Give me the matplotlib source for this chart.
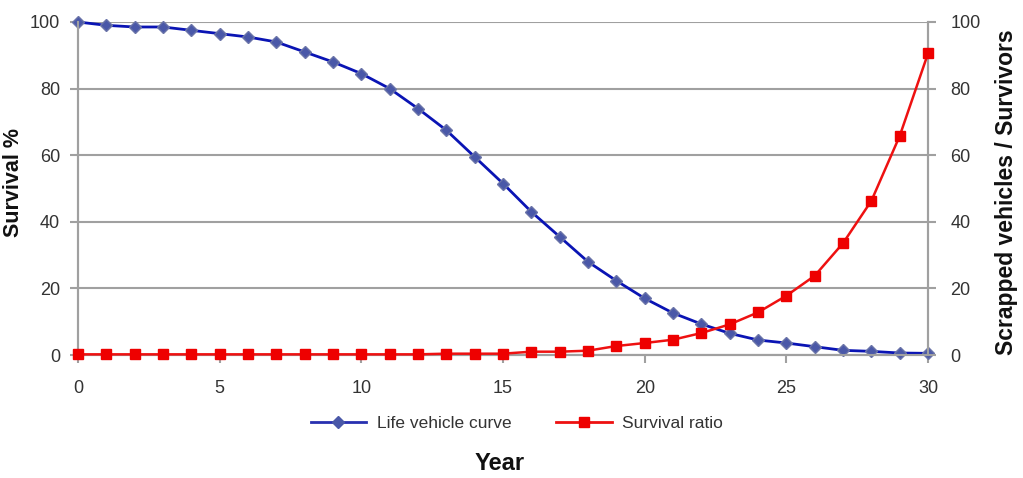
import matplotlib
matplotlib.use('Agg')
import matplotlib.pyplot as plt
from matplotlib.lines import Line2D

plt.rcParams['font.family'] = ['Liberation Sans', 'DejaVu Sans']

years = list(range(31))
life_curve = [100, 99, 98.5, 98.5, 97.5, 96.5, 95.5, 94, 91, 88, 84.5, 80, 74, 67.5,
              59.5, 51.5, 43, 35.5, 28, 22.3, 17, 12.6, 9.3, 6.5, 4.5, 3.6, 2.5, 1.4,
              1.1, 0.6, 0.5]
survival_ratio = [0.2, 0.2, 0.2, 0.2, 0.2, 0.2, 0.2, 0.2, 0.2, 0.2, 0.2, 0.2, 0.2, 0.4,
                  0.4, 0.4, 1.0, 1.0, 1.3, 2.7, 3.6, 4.6, 6.6, 9.2, 12.8, 17.8, 23.8,
                  33.6, 46.3, 65.8, 90.6]
yticks = [0, 20, 40, 60, 80, 100]
xticks = [0, 5, 10, 15, 20, 25, 30]

grid_col = '#a0a0a0'
text_col = '#333333'
tick_size = 13

fig = plt.figure(figsize=(10.23, 4.78), dpi=100)
ax = fig.add_axes([0.0762, 0.2573, 0.8310, 0.6967])
ax2 = ax.twinx()

# blue survival curve on the left axis
ax.plot(years, life_curve, color='#0a14b4', lw=2, marker='D', ms=6,
        markerfacecolor='#4a58a8', markeredgecolor='#6a74a8', markeredgewidth=1,
        zorder=3, clip_on=False)
# red ratio on the right axis
ax2.plot(years, survival_ratio, color='#ee1111', lw=1.8, marker='s', ms=7.5,
         markerfacecolor='#ee0000', markeredgecolor='#ee0000', zorder=3, clip_on=False)

for a in (ax, ax2):
    a.set_ylim(0, 100)
    a.set_xlim(0, 30)
    a.set_yticks(yticks)
    for s in a.spines.values():
        s.set_color(grid_col)
        s.set_linewidth(1.5)
    a.spines['top'].set_visible(False)
    a.tick_params(axis='both', colors=grid_col, labelcolor=text_col, labelsize=tick_size,
                  length=6, width=1.5, direction='out')

ax.set_xticks(xticks)
ax.grid(axis='y', color=grid_col, lw=1.5)
ax.set_axisbelow(True)
ax.tick_params(axis='y', pad=7)
ax2.tick_params(axis='y', pad=10)
ax.tick_params(axis='x', pad=12)

fig.text(14 / 1023, 0.619, 'Survival %', rotation=90, ha='center', va='center',
         fontsize=15.5, fontweight='bold', color='#111111')
fig.text(1006 / 1023, 0.598, 'Scrapped vehicles / Survivors', rotation=90, ha='center',
         va='center', fontsize=16.5, fontweight='bold', color='#111111')
fig.text(0.488, 0.031, 'Year', ha='center', va='center', fontsize=17,
         fontweight='bold', color='#111111')

handles = [
    Line2D([], [], color='#2830b0', lw=2, marker='D', ms=6, markerfacecolor='#4a58a8',
           markeredgecolor='#4a58a8'),
    Line2D([], [], color='#ee1111', lw=2, marker='s', ms=7, markerfacecolor='#ee0000',
           markeredgecolor='#ee0000'),
]
fig.legend(handles, ['Life vehicle curve', 'Survival ratio'], loc='center',
           bbox_to_anchor=(517 / 1023, 1 - 423 / 478), ncol=2, frameon=False,
           fontsize=12.5, handlelength=3.2, handletextpad=0.6, columnspacing=2.6,
           labelcolor=text_col)

fig.savefig('out.png', dpi=100)
